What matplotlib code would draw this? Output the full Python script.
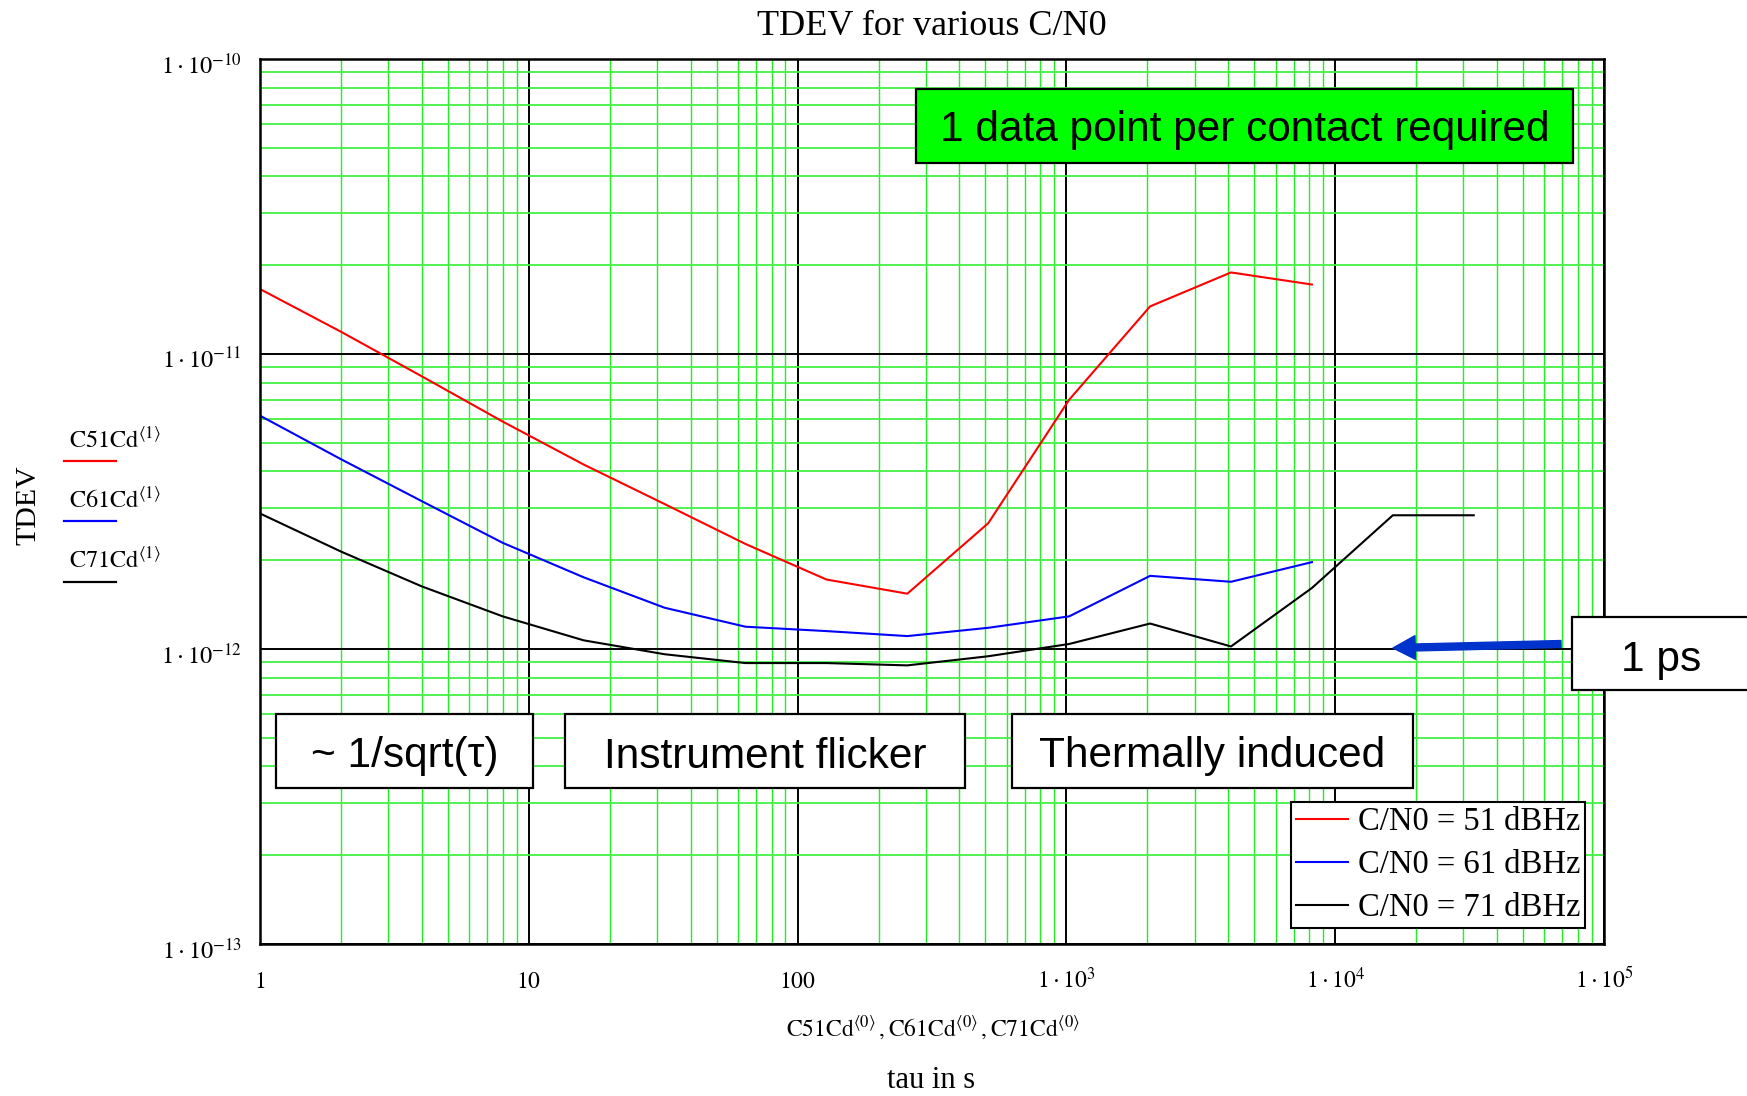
import matplotlib
matplotlib.use('Agg')
import matplotlib.pyplot as plt
from matplotlib.patches import Rectangle
from matplotlib.lines import Line2D
from matplotlib.ticker import LogLocator, NullFormatter
from matplotlib.transforms import ScaledTranslation

plt.rcParams['font.family'] = ['Liberation Serif', 'DejaVu Serif']
plt.rcParams['mathtext.fontset'] = 'stix'

# ---------------- data ----------------
tau_51 = [1, 2, 4, 8, 16, 32, 64, 128, 256, 512, 1024, 2048, 4096, 8192]
tdev_51 = [1.66e-11, 1.19e-11, 8.4e-12, 5.9e-12, 4.22e-12, 3.1e-12, 2.27e-12,
           1.72e-12, 1.54e-12, 2.67e-12, 7.0e-12, 1.45e-11, 1.89e-11, 1.72e-11]
tau_61 = [1, 2, 4, 8, 16, 32, 64, 128, 256, 512, 1024, 2048, 4096, 8192]
tdev_61 = [6.18e-12, 4.4e-12, 3.17e-12, 2.29e-12, 1.75e-12, 1.38e-12, 1.19e-12,
           1.15e-12, 1.106e-12, 1.18e-12, 1.29e-12, 1.77e-12, 1.69e-12, 1.97e-12]
tau_71 = [1, 2, 4, 8, 16, 32, 64, 128, 256, 512, 1024, 2048, 4096, 8192, 16384, 32768]
tdev_71 = [2.88e-12, 2.14e-12, 1.63e-12, 1.29e-12, 1.07e-12, 9.6e-13, 8.96e-13,
           8.96e-13, 8.8e-13, 9.45e-13, 1.04e-12, 1.22e-12, 1.02e-12, 1.61e-12,
           2.84e-12, 2.84e-12]

legend_labels = ["C/N0 = 51 dBHz", "C/N0 = 61 dBHz", "C/N0 = 71 dBHz"]
series_colors = ["#ff0000", "#0000ff", "#000000"]

xticks = [1, 10, 100, 1e3, 1e4, 1e5]
xtick_labels = [r"$1$", r"$10$", r"$100$", r"$1\cdot10^{3}$", r"$1\cdot10^{4}$", r"$1\cdot10^{5}$"]
yticks = [1e-13, 1e-12, 1e-11, 1e-10]
ytick_labels = [r"$1\cdot10^{-13}$", r"$1\cdot10^{-12}$", r"$1\cdot10^{-11}$", r"$1\cdot10^{-10}$"]

title = "TDEV for various C/N0"
ylabel = "TDEV"
xlabel1 = r"$\mathrm{C51Cd}^{\langle 0\rangle}\,,\mathrm{C61Cd}^{\langle 0\rangle}\,,\mathrm{C71Cd}^{\langle 0\rangle}$"
xlabel2 = "tau in s"
side_labels = [r"$\mathrm{C51Cd}^{\langle 1\rangle}$", r"$\mathrm{C61Cd}^{\langle 1\rangle}$",
               r"$\mathrm{C71Cd}^{\langle 1\rangle}$"]

# ---------------- figure ----------------
W, H = 1747, 1096
fig = plt.figure(figsize=(W / 100, H / 100), dpi=100)
ax = fig.add_axes([260 / W, 1 - 944 / H, (1604 - 260) / W, (944 - 59) / H])

ax.set_xscale('log')
ax.set_yscale('log')
ax.set_xlim(1, 1e5)
ax.set_ylim(1e-13, 1e-10)

ax.xaxis.set_minor_locator(LogLocator(base=10, subs=range(2, 10), numticks=20))
ax.yaxis.set_minor_locator(LogLocator(base=10, subs=range(2, 10), numticks=20))
ax.xaxis.set_minor_formatter(NullFormatter())
ax.yaxis.set_minor_formatter(NullFormatter())
ax.set_xticks(xticks)
ax.set_xticklabels(xtick_labels)
ax.set_yticks(yticks)
ax.set_yticklabels(ytick_labels)
ax.tick_params(which='both', length=0)
ax.tick_params(axis='x', labelsize=17, pad=31.5)
ax.tick_params(axis='y', labelsize=17.5, pad=13)
for t in ax.get_xticklabels():
    t.set_verticalalignment('baseline')
for t in ax.get_yticklabels():
    t.set_transform(t.get_transform() + ScaledTranslation(0, -4.5 / 100, fig.dpi_scale_trans))

ax.xaxis.grid(True, which='minor', color='#22ee22', lw=1.0)
ax.yaxis.grid(True, which='minor', color='#44f044', lw=1.3)
ax.grid(True, which='major', color='black', lw=1.4)
ax.set_axisbelow(True)
for s in ax.spines.values():
    s.set_linewidth(1.8)
    s.set_color('black')

ax.plot(tau_51, tdev_51, color=series_colors[0], lw=1.5, label=legend_labels[0])
ax.plot(tau_61, tdev_61, color=series_colors[1], lw=1.5, label=legend_labels[1])
ax.plot(tau_71, tdev_71, color=series_colors[2], lw=1.5, label=legend_labels[2])

leg = ax.legend(loc='upper left', bbox_to_anchor=(1291 / W, 1 - 802 / H),
                bbox_transform=fig.transFigure, fontsize=23.5, frameon=True,
                fancybox=False, framealpha=1, edgecolor='black', borderaxespad=0,
                borderpad=0.15, handlelength=1.6, handletextpad=0.3, labelspacing=0.38)
leg.get_frame().set_linewidth(1.5)

# ---------------- text ----------------
fig.text(932 / W, 1 - 35 / H, title, ha='center', va='baseline', fontsize=26)
fig.text(28 / W, 1 - 505 / H, ylabel, ha='center', va='center', rotation=90, fontsize=21.5)
fig.text(933 / W, 1 - 1037 / H, xlabel1, ha='center', va='baseline', fontsize=17)
fig.text(931 / W, 1 - 1088 / H, xlabel2, ha='center', va='baseline', fontsize=22)

side_baselines = [448, 508, 568]
side_lines = [461, 521.5, 581.5]
for lab, yb, yl, c in zip(side_labels, side_baselines, side_lines, series_colors):
    fig.text(69 / W, 1 - yb / H, lab, ha='left', va='baseline', fontsize=17.5)
    fig.add_artist(Line2D([64 / W, 116 / W], [1 - yl / H, 1 - yl / H], color=c, lw=1.6))


def fig_box(x0, y0, x1, y1, fc='white'):
    r = Rectangle((x0 / W, 1 - y1 / H), (x1 - x0) / W, (y1 - y0) / H,
                  transform=fig.transFigure, facecolor=fc, edgecolor='black',
                  lw=1.6, zorder=5)
    fig.add_artist(r)
    return r


def box_text(cx, cy, s):
    fig.text(cx / W, 1 - cy / H, s, ha='center', va='center', fontsize=30.5,
             family='Liberation Sans', zorder=6)


fig_box(916, 89, 1573, 163, fc='#00ff00')
box_text((916 + 1573) / 2, 130.5, "1 data point per contact required")

fig_box(276, 714, 533, 788)
box_text((276 + 533) / 2, 756.5, "~ 1/sqrt(\u03c4)")
fig_box(565, 714, 965, 788)
box_text((565 + 965) / 2, 756.5, "Instrument flicker")
fig_box(1012, 714, 1413, 788)
box_text((1012 + 1413) / 2, 756.5, "Thermally induced")

fig_box(1572, 617, 1800, 690)
box_text(1661, 659.5, "1 ps")

# arrow pointing at 1 ps level
fig.add_artist(plt.Annotation('', xy=(1393 / W, 1 - 648 / H), xytext=(1561 / W, 1 - 644 / H),
                              xycoords='figure fraction', textcoords='figure fraction',
                              arrowprops=dict(arrowstyle='simple,head_length=1.6,head_width=1.7,tail_width=0.5',
                                              mutation_scale=10, color='#0033cc',
                                              shrinkA=0, shrinkB=0)))

fig.savefig('out.png', dpi=100)
